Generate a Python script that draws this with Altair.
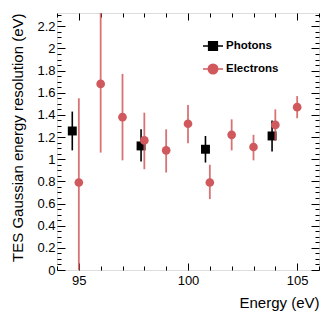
import altair as alt
import pandas as pd

# ---- data ----
photon_energy = [94.7, 97.85, 100.8, 103.85]
photon_res = [1.255, 1.12, 1.09, 1.21]
photon_lo = [1.08, 0.98, 0.97, 1.07]
photon_hi = [1.43, 1.27, 1.21, 1.35]

electron_energy = [95, 96, 97, 98, 99, 100, 101, 102, 103, 104, 105]
electron_res = [0.79, 1.68, 1.38, 1.17, 1.08, 1.32, 0.79, 1.22, 1.11, 1.31, 1.47]
electron_lo = [0.0, 1.06, 0.99, 0.91, 0.88, 1.145, 0.64, 1.08, 0.99, 1.17, 1.37]
electron_hi = [1.55, 2.40, 1.77, 1.42, 1.27, 1.49, 0.95, 1.36, 1.22, 1.45, 1.57]

series_names = ["Photons", "Electrons"]
series_colors = ["#000000", "#d0595d"]

x_ticks = list(range(94, 107))
y_ticks = [round(i * 0.05, 2) for i in range(47)]

W, H = 262, 257
FONT = "Liberation Sans"
RED = series_colors[1]

ph = pd.DataFrame({"E": photon_energy, "R": photon_res, "lo": photon_lo, "hi": photon_hi})
el = pd.DataFrame({"E": electron_energy, "R": electron_res, "lo": electron_lo, "hi": electron_hi})

xscale = alt.Scale(domain=[94, 106], nice=False, zero=False)
yscale = alt.Scale(domain=[0, 2.32], nice=False, zero=False)

major_y = "abs(datum.value*5 - round(datum.value*5)) < 0.001"

x_axis = alt.Axis(
    values=x_ticks, ticks=False, tickSize=0, domain=False,
    grid=True, gridColor="black", gridWidth=1, gridOpacity=1,
    gridDash={"condition": {"test": "datum.value % 5 === 0", "value": [7, H - 14, 7]},
              "value": [4, H - 8, 4]},
    labelExpr="datum.value % 5 === 0 ? format(datum.value, 'd') : ''",
    labelOverlap=False, labelFont=FONT, labelFontSize=13, labelColor="black",
    labelPadding=4, labelBaseline="top",
    title="Energy (eV)", titleFont=FONT, titleFontSize=15, titleFontWeight="normal",
    titleColor="black", titleX=W, titleY=32, titleAlign="right", titleBaseline="middle",
)
y_axis = alt.Axis(
    values=y_ticks, ticks=False, tickSize=0, domain=False,
    grid=True, gridColor="black", gridWidth=1, gridOpacity=1,
    gridDash={"condition": {"test": major_y, "value": [8, W - 16, 8]},
              "value": [4, W - 8, 4]},
    labelExpr=major_y + " ? format(datum.value, '~g') : ''",
    labelOverlap=False, labelFont=FONT, labelFontSize=13, labelColor="black",
    labelPadding=2,
    title="TES Gaussian energy resolution (eV)", titleFont=FONT, titleFontSize=15,
    titleFontWeight="normal", titleColor="black", titleX=-40, titleY=0,
    titleAngle=-90, titleAlign="right", titleBaseline="middle",
)


def X(field):
    return alt.X(field, type="quantitative", scale=xscale, axis=x_axis)


def Y(field):
    return alt.Y(field, type="quantitative", scale=yscale, axis=y_axis)


ph_bars = alt.Chart(ph).mark_rule(color="black", strokeWidth=1.6, clip=True).encode(
    x=X("E"), y=Y("lo"), y2="hi"
)
ph_pts = alt.Chart(ph).mark_square(color="black", size=80, opacity=1, clip=True).encode(
    x=X("E"), y=Y("R")
)
el_bars = alt.Chart(el).mark_rule(color=RED, strokeWidth=1.8, opacity=0.85, clip=True).encode(
    x=X("E"), y=Y("lo"), y2="hi"
)
el_pts = alt.Chart(el).mark_circle(color=RED, size=75, opacity=1, clip=True).encode(
    x=X("E"), y=Y("R")
)

square_path = "M-1,0H-0.43M0.43,0H1M-0.43,-0.43H0.43V0.43H-0.43Z"
circle_path = ("M-1,0H-0.47M0.47,0H1M-0.47,0A0.47,0.47 0 1,0 0.47,0"
               "A0.47,0.47 0 1,0 -0.47,0Z")

legend = alt.Legend(
    orient="none", legendX=145, legendY=22, title=None, padding=0,
    labelFont=FONT, labelFontSize=11.5, labelFontWeight="bold", labelColor="black",
    symbolSize=400, symbolStrokeWidth=1.6, labelOffset=2, rowPadding=4,
)
leg_df = pd.DataFrame({"series": series_names})
leg_layer = alt.Chart(leg_df).mark_point(filled=True, opacity=1).encode(
    fill=alt.Fill("series:N", scale=alt.Scale(domain=series_names, range=series_colors), legend=legend),
    stroke=alt.Stroke("series:N", scale=alt.Scale(domain=series_names, range=series_colors), legend=legend),
    shape=alt.Shape("series:N", scale=alt.Scale(domain=series_names, range=[square_path, circle_path]), legend=legend),
).transform_filter("false")

chart = alt.layer(ph_bars, ph_pts, el_bars, el_pts, leg_layer).properties(
    width=W, height=H,
    padding={"left": 49, "top": 5, "right": 5, "bottom": 41},
    autosize="none",
).configure_view(stroke="black", strokeWidth=1).configure(background="white")

chart.save("out.html", embed_options={"renderer": "svg", "actions": False})
